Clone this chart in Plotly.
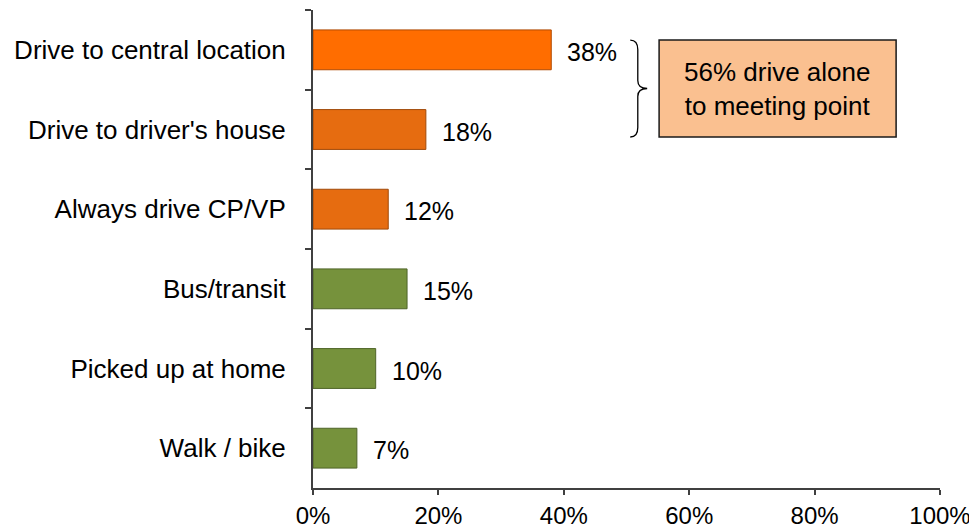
import plotly.graph_objects as go

categories = ["Drive to central location", "Drive to driver's house", "Always drive CP/VP",
              "Bus/transit", "Picked up at home", "Walk / bike"]
values = [38, 18, 12, 15, 10, 7]
bar_colors = ["#FF6D00", "#E66C10", "#E66C10", "#76923C", "#76923C", "#76923C"]
line_colors = ["#B04A00", "#A04A0A", "#A04A0A", "#4F6428", "#4F6428", "#4F6428"]
x_ticks = [0, 20, 40, 60, 80, 100]
callout_text = "56% drive alone<br>to meeting point"

fig = go.Figure()
fig.add_trace(go.Bar(
    x=values, y=categories, orientation="h",
    width=0.5,
    marker=dict(color=bar_colors, line=dict(color=line_colors, width=1)),
    hoverinfo="skip",
))

for c, v in zip(categories, values):
    fig.add_annotation(x=v, y=c, text=f"{v}%", showarrow=False, xanchor="left",
                       xshift=14, yshift=-2, font=dict(size=25, color="#000000"))

# brace spanning first two bars
bx0, bxv, bx1 = 50.6, 51.8, 53.3
y_top, y_bot = -0.123, 1.094
y_mid = (y_top + y_bot) / 2
path = (f"M {bx0},{y_top} Q {bxv},{y_top} {bxv},{y_top + 0.12} "
        f"L {bxv},{y_mid - 0.1} Q {bxv},{y_mid} {bx1},{y_mid} "
        f"Q {bxv},{y_mid} {bxv},{y_mid + 0.1} "
        f"L {bxv},{y_bot - 0.12} Q {bxv},{y_bot} {bx0},{y_bot}")
fig.add_shape(type="path", path=path, xref="x", yref="y",
              line=dict(color="#000000", width=1.3))

box_x0, box_x1 = 55.2, 93.0
fig.add_shape(type="rect", xref="x", yref="y", x0=box_x0, x1=box_x1, y0=y_top, y1=y_bot,
              fillcolor="#FAC090", line=dict(color="#1A1A1A", width=1.5), layer="below")
fig.add_annotation(x=(box_x0 + box_x1) / 2, y=y_mid, xref="x", yref="y", text=callout_text,
                   showarrow=False, font=dict(size=26, color="#000000"), align="center")

# page body has an 8px default margin, so the figure is sized to fit the window
fig.update_layout(
    width=969, height=523,
    margin=dict(l=305, r=37, t=2, b=43),
    plot_bgcolor="white", paper_bgcolor="white",
    font=dict(family="Arial, Liberation Sans, sans-serif", size=24, color="#000000"),
    showlegend=False,
)
fig.update_xaxes(range=[0, 100], tickvals=x_ticks, ticktext=[f"{t}%" for t in x_ticks],
                 showgrid=False, zeroline=False, showline=True, linecolor="#404040",
                 linewidth=2, ticks="outside", ticklen=5, tickcolor="#404040", tickwidth=1.5,
                 tickfont=dict(size=24), automargin=False)
fig.update_yaxes(autorange="reversed", showgrid=False, showline=True, linecolor="#404040",
                 linewidth=2, ticks="outside", ticklen=6, tickcolor="#404040", tickwidth=1.5,
                 tickson="boundaries", ticklabelstandoff=20, tickfont=dict(size=26),
                 automargin=False)

fig.write_html("out.html")
